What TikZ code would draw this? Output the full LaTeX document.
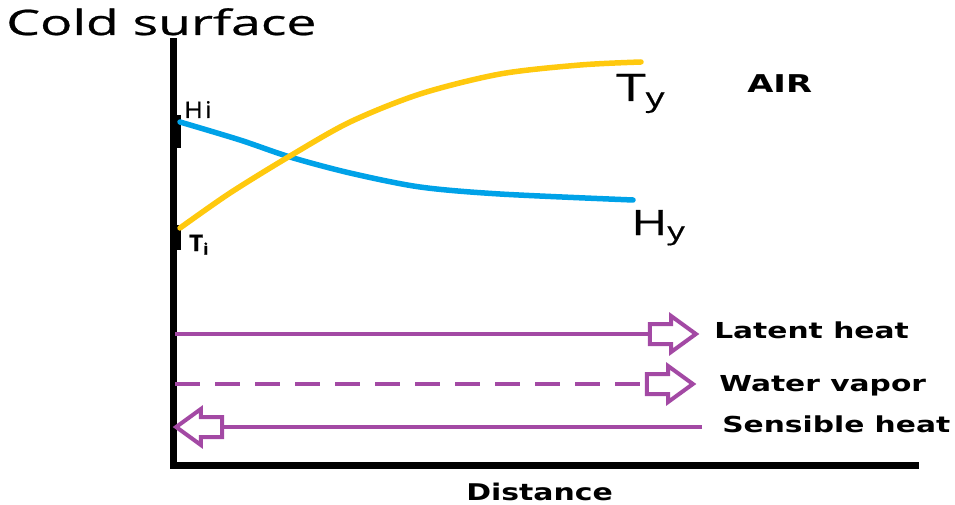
\documentclass[tikz,border=0pt]{standalone}
\usepackage{fontspec}
\setmainfont{Open Sans}[FakeBold=0.6]
\newfontfamily\lblfont{DejaVu Sans}
\usetikzlibrary{shapes.arrows}

\definecolor{heatpurple}{HTML}{A349A4}
\definecolor{hblue}{HTML}{00A2E8}
\definecolor{tyellow}{HTML}{FFC90E}

\begin{document}
\begin{tikzpicture}[
  x=1pt, y=-1pt,
  axis/.style={line width=7pt, black, line cap=rect},
  tick/.style={line width=7pt, black},
  curve/.style={line width=5.5pt, line cap=round},
  flow/.style={line width=4pt, draw=heatpurple},
  flowhead/.style={single arrow, draw=heatpurple, fill=white,
                   line width=4pt, inner xsep=0pt, inner ysep=8pt,
                   minimum height=46pt,
                   single arrow head extend=8pt,
                   single arrow tip angle=72},
  big/.style={font=\fontsize{38}{40}\selectfont, xscale=1.4, inner sep=0pt},
  lbl/.style={font=\lblfont\bfseries\fontsize{22}{24}\selectfont,
              xscale=1.35, inner sep=0pt},
]
\useasboundingbox (0,0) rectangle (955,505);

%% ── Axes ──────────────────────────────────────────────
\coordinate (origin) at (173,465);
\coordinate (ytop)   at (173,42);
\coordinate (xend)   at (915,465);
\draw[axis] (ytop) -- (origin) -- (xend);
\draw[tick] (177,115) -- (177,148);
\draw[tick] (177,225) -- (177,250);

%% ── Profiles ──────────────────────────────────────────
\draw[curve, hblue] plot[smooth] coordinates
  {(180,122) (240,140) (290,157) (350,173) (420,187) (500,194) (633,200)};
\draw[curve, tyellow] plot[smooth] coordinates
  {(180,228) (230,193) (290,156) (350,122) (420,94) (500,74) (580,65) (641,62)};

%% ── Labels ────────────────────────────────────────────
\node[big, font=\fontsize{35}{40}\selectfont, xscale=1.53/1.4, anchor=base west]
  (title) at (6,35) {Cold surface};
\node[anchor=base west, inner sep=0pt, font=\fontsize{23}{24}\selectfont, xscale=1.1]
  (hi) at (184,118) {H\kern2pt i};
\node[anchor=base west, inner sep=0pt, font=\bfseries\fontsize{23}{24}\selectfont, xscale=1.05]
  (ti) at (189,251) {T\textsubscript{i}};
\node[big, anchor=base west] (ty) at (616,101) {T\textsubscript{y}};
\node[big, font=\fontsize{35}{40}\selectfont, anchor=base west] (hy) at (631,235) {H\textsubscript{y}};
\node[lbl, font=\lblfont\bfseries\fontsize{24.5}{26}\selectfont, xscale=1.38/1.35,
      anchor=base west] (air) at (747,93) {AIR};

%% ── Heat and mass flows ───────────────────────────────
\node[flowhead] (lhhead) at (666,334) {};
\node[flowhead] (wvhead) at (663,384) {};
\node[flowhead, shape border rotate=180] (shhead) at (206,427) {};
\coordinate (lhstart) at (175,334);
\coordinate (wvstart) at (175,384);
\coordinate (shstart) at (702,427);

\draw[flow] (lhstart) -- (lhhead.tail);
\draw[flow, dash pattern=on 25pt off 15pt] (wvstart) -- (wvhead.tail);
\draw[flow] (shstart) -- (shhead.tail);

\node[lbl, anchor=base west] (latent)   at (714,338) {Latent heat};
\node[lbl, anchor=base west] (vapor)    at (719,391) {Water vapor};
\node[lbl, anchor=base west] (sensible) at (722,432) {Sensible heat};
\node[lbl, font=\lblfont\bfseries\fontsize{23}{24}\selectfont, xscale=1.3/1.35,
      anchor=base west] (dist) at (466,500) {Distance};

\end{tikzpicture}
\end{document}
